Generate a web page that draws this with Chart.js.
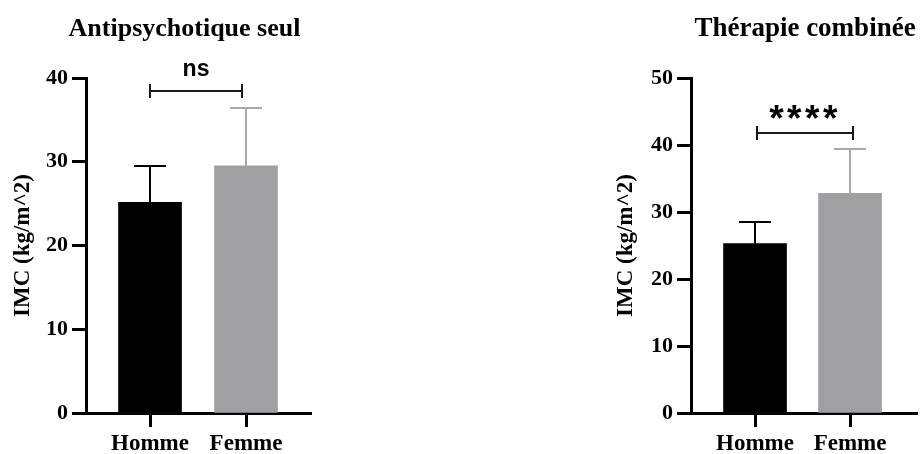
<!DOCTYPE html>
<html>
<head>
<meta charset="utf-8">
<script src="https://cdn.jsdelivr.net/npm/chart.js@4.4.1/dist/chart.umd.min.js"></script>
<style>
  html, body { margin: 0; padding: 0; background: #ffffff; }
  body { width: 923px; height: 454px; position: relative; overflow: hidden; }
  canvas { position: absolute; top: 0; }
</style>
</head>
<body>
<canvas id="mono" width="330" height="454" style="left:0px"></canvas>
<canvas id="combo" width="323" height="454" style="left:600px"></canvas>
<script>
// Groups on the x axis
const categories = ['Homme', 'Femme'];

// Panel headings and shared axis title
const monoTitle = 'Antipsychotique seul';
const comboTitle = 'Thérapie combinée';
const axisTitle = 'IMC (kg/m^2)';

// Mean BMI and standard deviation per group
const monoMeans = [25.15, 29.5];
const monoSD = [4.3, 6.9];
const comboMeans = [25.3, 32.8];
const comboSD = [3.25, 6.6];

// Y-axis tick values
const monoTicks = [0, 10, 20, 30, 40];
const comboTicks = [0, 10, 20, 30, 40, 50];

// Significance brackets: [from group, to group, bracket height]
const monoBracket = [0, 0.96, 38.5];
const comboBracket = [0.02, 1.03, 41.8];
const monoSignif = 'ns';
const comboSignif = '****';

const SERIF = "'Liberation Serif', 'Times New Roman', serif";
const SANS = "'Liberation Sans', Arial, sans-serif";
const barColors = ['#000000', '#a0a0a4'];
const errColors = ['#000000', '#a9a9a9'];

function errorBarsPlugin(sd) {
  return {
    id: 'errorBars',
    afterDatasetsDraw(chart) {
      const { ctx, scales: { x, y } } = chart;
      const pts = chart.data.datasets[0].data;
      ctx.save();
      ctx.lineWidth = 2;
      pts.forEach((p, i) => {
        const px = Math.round(x.getPixelForValue(p.x));
        const base = y.getPixelForValue(p.y);
        const top = Math.round(y.getPixelForValue(p.y + sd[i]));
        ctx.strokeStyle = errColors[i];
        ctx.beginPath();
        ctx.moveTo(px, base);
        ctx.lineTo(px, top);
        ctx.moveTo(px - 16, top);
        ctx.lineTo(px + 16, top);
        ctx.stroke();
      });
      ctx.restore();
    }
  };
}

function bracketPlugin(bracket, label, style) {
  return {
    id: 'signifBracket',
    afterDraw(chart) {
      const { ctx, scales: { x, y } } = chart;
      const x0 = Math.round(x.getPixelForValue(bracket[0]));
      const x1 = Math.round(x.getPixelForValue(bracket[1]));
      const py = Math.round(y.getPixelForValue(bracket[2]));
      ctx.save();
      ctx.strokeStyle = '#1a1a1a';
      ctx.lineWidth = 2;
      ctx.beginPath();
      ctx.moveTo(x0, py);
      ctx.lineTo(x1, py);
      ctx.moveTo(x0, py - 7);
      ctx.lineTo(x0, py + 7);
      ctx.moveTo(x1, py - 7);
      ctx.lineTo(x1, py + 7);
      ctx.stroke();
      ctx.fillStyle = '#000000';
      ctx.font = style.font;
      if ('letterSpacing' in ctx) ctx.letterSpacing = style.spacing + 'px';
      ctx.textAlign = 'center';
      ctx.textBaseline = 'alphabetic';
      ctx.fillText(label, (x0 + x1) / 2 + style.dx, py + style.dy);
      ctx.restore();
    }
  };
}

function headingPlugin(text, cx, baseline, size) {
  return {
    id: 'panelHeading',
    afterDraw(chart) {
      const ctx = chart.ctx;
      ctx.save();
      ctx.fillStyle = '#000000';
      ctx.font = 'bold ' + size + 'px ' + SERIF;
      ctx.textAlign = 'center';
      ctx.textBaseline = 'alphabetic';
      ctx.fillText(text, cx, baseline);
      ctx.restore();
    }
  };
}

function buildPanel(id, cfg) {
  return new Chart(document.getElementById(id), {
    type: 'bar',
    data: {
      datasets: [{
        data: cfg.means.map((v, i) => ({ x: i, y: v })),
        backgroundColor: barColors,
        borderWidth: 0,
        barThickness: 63
      }]
    },
    options: {
      responsive: false,
      animation: false,
      events: [],
      layout: { padding: { top: 78, right: cfg.padRight, bottom: 0, left: 0 } },
      plugins: { legend: { display: false }, tooltip: { enabled: false } },
      scales: {
        x: {
          type: 'linear',
          offset: false,
          min: cfg.xMin,
          max: cfg.xMax,
          afterBuildTicks: s => { s.ticks = categories.map((c, i) => ({ value: i })); },
          afterFit: s => { s.height = 41; },
          grid: {
            offset: false,
            drawOnChartArea: false,
            drawTicks: true,
            tickLength: 14,
            tickWidth: 3,
            color: '#000000'
          },
          border: { display: true, color: '#000000', width: 3 },
          ticks: {
            autoSkip: false,
            maxRotation: 0,
            padding: 3,
            color: '#000000',
            font: { family: SERIF, size: 23, weight: 'bold' },
            callback: v => categories[Math.round(v)]
          }
        },
        y: {
          min: cfg.ticks[0],
          max: cfg.ticks[cfg.ticks.length - 1],
          afterBuildTicks: s => { s.ticks = cfg.ticks.map(v => ({ value: v })); },
          afterFit: s => { s.width = cfg.yWidth; },
          grid: {
            drawOnChartArea: false,
            drawTicks: true,
            tickLength: 14,
            tickWidth: 3,
            color: '#000000'
          },
          border: { display: true, color: '#000000', width: 3 },
          ticks: {
            padding: 4,
            color: '#000000',
            font: { family: SERIF, size: 22, weight: 'bold' }
          },
          title: {
            display: true,
            text: axisTitle,
            color: '#000000',
            font: { family: SERIF, size: 23, weight: 'bold' },
            padding: { top: cfg.titlePad, bottom: 0 }
          }
        }
      }
    },
    plugins: [
      errorBarsPlugin(cfg.sd),
      bracketPlugin(cfg.bracket, cfg.signif, cfg.signifStyle),
      headingPlugin(cfg.heading, cfg.headingX, 35.5, cfg.headingSize)
    ]
  });
}

buildPanel('mono', {
  means: monoMeans, sd: monoSD, ticks: monoTicks,
  bracket: monoBracket, signif: monoSignif,
  signifStyle: { font: 'bold 23px ' + SANS, spacing: 0, dx: 0, dy: -15 },
  heading: monoTitle, headingX: 184.5, headingSize: 26,
  xMin: -0.667, xMax: 1.677, yWidth: 86, padRight: 19, titlePad: 9
});

buildPanel('combo', {
  means: comboMeans, sd: comboSD, ticks: comboTicks,
  bracket: comboBracket, signif: comboSignif,
  signifStyle: { font: 'bold 37px ' + SANS, spacing: 3.5, dx: 0, dy: -2.5 },
  heading: comboTitle, headingX: 205, headingSize: 27,
  xMin: -0.674, xMax: 1.705, yWidth: 91, padRight: 6, titlePad: 12.5
});
</script>
</body>
</html>
